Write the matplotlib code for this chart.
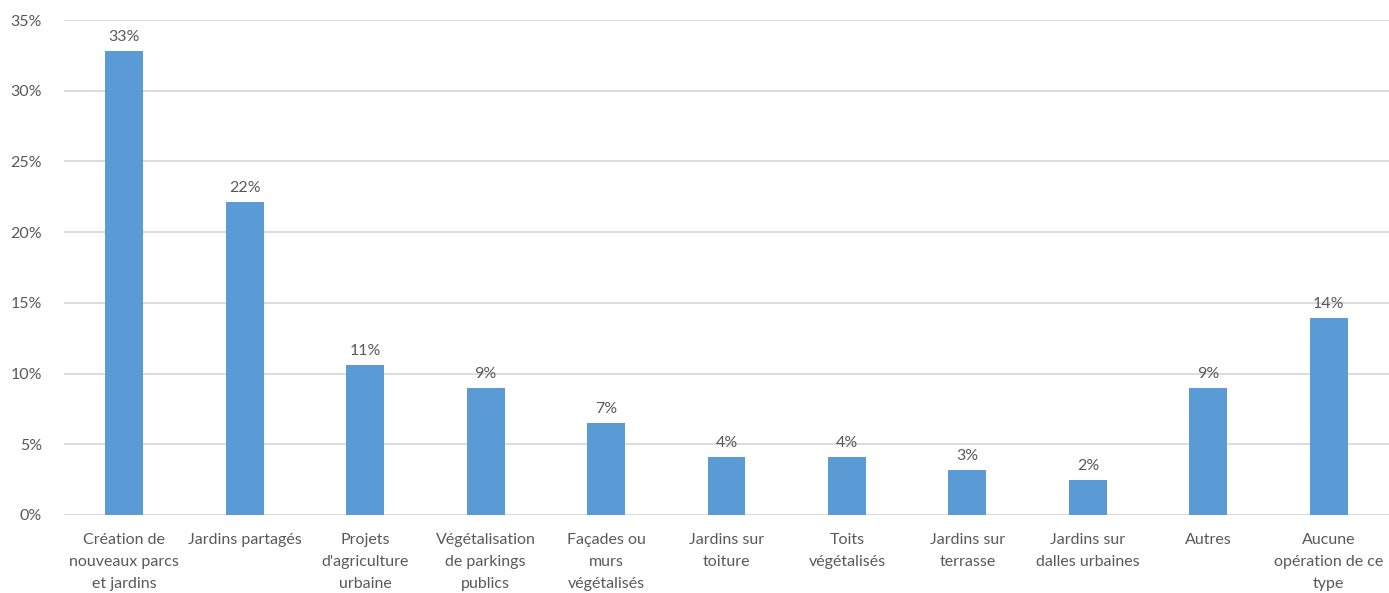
import matplotlib.pyplot as plt

#categories and shares
categories = [
    "Création de\nnouveaux parcs\net jardins",
    "Jardins partagés",
    "Projets\nd'agriculture\nurbaine",
    "Végétalisation\nde parkings\npublics",
    "Façades ou\nmurs\nvégétalisés",
    "Jardins sur\ntoiture",
    "Toits\nvégétalisés",
    "Jardins sur\nterrasse",
    "Jardins sur\ndalles urbaines",
    "Autres",
    "Aucune\nopération de ce\ntype",
]
values = [32.8, 22.1, 10.6, 9.0, 6.5, 4.1, 4.1, 3.2, 2.5, 9.0, 13.9]
value_labels = ["33%", "22%", "11%", "9%", "7%", "4%", "4%", "3%", "2%", "9%", "14%"]
yticks = [0, 5, 10, 15, 20, 25, 30, 35]

plt.rcParams['font.family'] = ['Lato', 'DejaVu Sans']
text_color = "#595959"

fig = plt.figure(figsize=(13.89, 5.93), dpi=100)
ax = fig.add_axes([64 / 1389, 78 / 593, 1 - 64 / 1389, 495 / 593])

x = list(range(len(categories)))
bars = ax.bar(x, values, width=0.315, color="#5B9BD5", zorder=3)

#value labels above each bar
for bar, lab in zip(bars, value_labels):
    ax.text(bar.get_x() + bar.get_width() / 2, bar.get_height() + 0.5, lab,
            ha='center', va='bottom', fontsize=11.5, color=text_color)

ax.set_xlim(-0.5, len(categories) - 0.5)
ax.set_ylim(0, 35)
ax.set_yticks(yticks)
ax.set_yticklabels([f"{t}%" for t in yticks], fontsize=11.5, color=text_color)
ax.set_xticks(x)
ax.set_xticklabels(categories, fontsize=11.5, color=text_color, linespacing=1.72)
ax.tick_params(axis='both', length=0)
ax.tick_params(axis='x', pad=13)
ax.tick_params(axis='y', pad=16)

ax.grid(True, axis='y', color="#D9D9D9", linewidth=1.3, zorder=0)
for s in ax.spines.values():
    s.set_visible(False)

fig.savefig("out.png", dpi=100)
